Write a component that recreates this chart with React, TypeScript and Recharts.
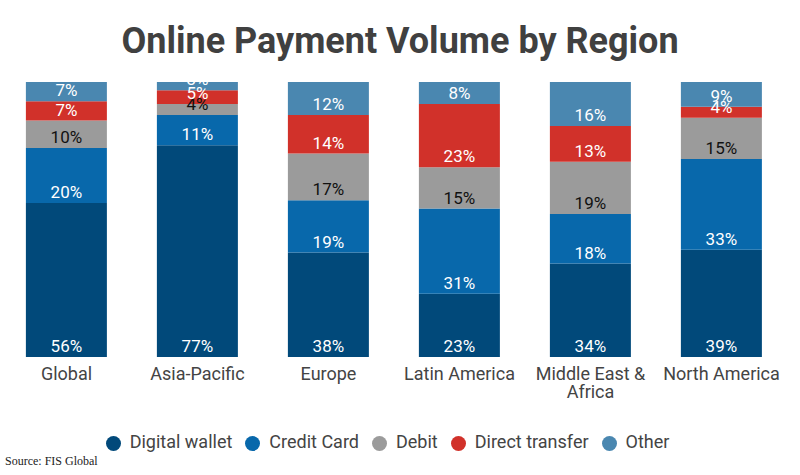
import React from "react";
import { BarChart, Bar, XAxis, YAxis, Legend, LabelList, Text } from "recharts";

const regions = ["Global", "Asia-Pacific", "Europe", "Latin America", "Middle East & Africa", "North America"];
const digitalWallet = [56, 77, 38, 23, 34, 39];
const creditCard = [20, 11, 19, 31, 18, 33];
const debit = [10, 4, 17, 15, 19, 15];
const directTransfer = [7, 5, 14, 23, 13, 4];
const other = [7, 3, 12, 8, 16, 9];

const seriesNames = ["Digital wallet", "Credit Card", "Debit", "Direct transfer", "Other"];
const colors = ["#01497a", "#0868ab", "#9b9b9b", "#d1312a", "#4a87b0"];
const labelColors = ["#ffffff", "#ffffff", "#111111", "#ffffff", "#ffffff"];

const data = regions.map((r, i) => ({
  region: r,
  s0: digitalWallet[i],
  s1: creditCard[i],
  s2: debit[i],
  s3: directTransfer[i],
  s4: other[i],
}));

const FONT = "Roboto, 'Noto Sans', sans-serif";

const Tick = (props: any) => {
  const { x, y, payload } = props;
  return (
    <Text
      x={x}
      y={y + 2}
      width={130}
      textAnchor="middle"
      verticalAnchor="start"
      fontSize={18}
      fontFamily={FONT}
      fill="#444444"
    >
      {payload.value}
    </Text>
  );
};

export default function App() {
  return (
    <div style={{ position: "absolute", left: 0, top: 0, width: 800, height: 475, background: "#fff" }}>
      <div
        style={{
          position: "absolute",
          left: 0,
          top: 18,
          width: 800,
          textAlign: "center",
          fontFamily: FONT,
          fontWeight: 700,
          fontSize: 36,
          color: "#404040",
          lineHeight: "46px",
        }}
      >
        Online Payment Volume by Region
      </div>
      <BarChart
        width={800}
        height={475}
        data={data}
        margin={{ top: 82, right: 13, left: 1, bottom: 46 }}
        barCategoryGap="19%"
      >
        <XAxis
          dataKey="region"
          axisLine={false}
          tickLine={false}
          interval={0}
          height={51}
          tick={<Tick />}
        />
        <YAxis hide domain={[0, 100]} />
        <Legend
          verticalAlign="bottom"
          iconType="circle"
          iconSize={15}
          itemSorter={(item: any) => seriesNames.indexOf(item.value)}
          wrapperStyle={{ fontFamily: FONT, fontSize: 18, bottom: 23 }}
          formatter={(v: any) => (
            <span style={{ color: "#444444", marginLeft: 5, marginRight: 3 }}>{v}</span>
          )}
        />
        {seriesNames.map((name, k) => (
          <Bar
            key={name}
            dataKey={"s" + k}
            name={name}
            stackId="a"
            fill={colors[k]}
            isAnimationActive={false}
          >
            <LabelList
              dataKey={"s" + k}
              position="insideBottom"
              formatter={(v: any) => v + "%"}
              fill={labelColors[k]}
              fontSize={17}
              fontFamily={FONT}
            />
          </Bar>
        ))}
      </BarChart>
      <div
        style={{
          position: "absolute",
          left: 5,
          top: 454,
          fontFamily: "'Liberation Serif', 'DejaVu Serif', serif",
          fontSize: 12,
          color: "#222",
        }}
      >
        Source: FIS Global
      </div>
    </div>
  );
}
